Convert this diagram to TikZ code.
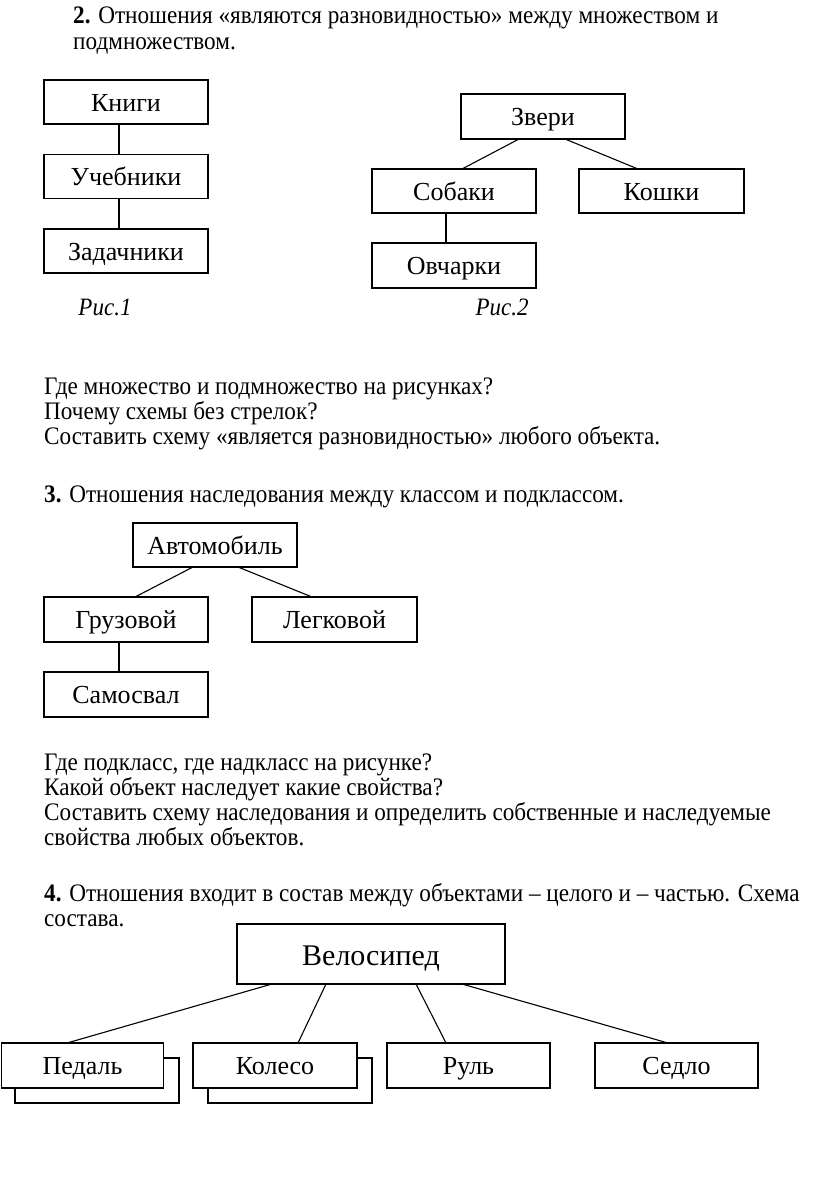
\documentclass[tikz,border=0pt]{standalone}
\usepackage{fontspec}
\setmainfont{Liberation Serif}
\newfontfamily\bodyfont[FakeStretch=0.92]{Liberation Serif}
\begin{document}
\begin{tikzpicture}[x=1pt,y=-1pt,
  box/.style={draw, line width=1.1pt, fill=white, inner sep=0pt, outer sep=0pt,
    minimum width=164pt, minimum height=44pt,
    font=\fontsize{26}{28}\selectfont, text height=18pt, text depth=0pt},
  bigbox/.style={box, minimum width=268pt, minimum height=60pt,
    font=\fontsize{30}{32}\selectfont, text height=22pt, text depth=0pt},
  backbox/.style={draw, line width=1.1pt, fill=white, inner sep=0pt, outer sep=0pt,
    minimum width=164pt, minimum height=45pt},
  txt/.style={anchor=base west, inner sep=0pt, font=\bodyfont\fontsize{25.2}{26}\selectfont},
  capt/.style={anchor=base, inner sep=0pt, font=\bodyfont\fontsize{25}{26}\selectfont\itshape},
  link/.style={line width=1.1pt}]
\useasboundingbox (0,0) rectangle (816,1199);

% --- Section 2 text
\node[txt] (h2a) at (73,24) {\textbf{2.} Отношения «являются разновидностью» между множеством и};
\node[txt] (h2b) at (73,49) {подмножеством.};

% --- Fig 1
\node[box] (knigi) at (126,102) {Книги};
\node[box] (ucheb) at (126,176.5) {Учебники};
\node[box] (zadach) at (126,251) {Задачники};
\draw[link] ([xshift=-7pt]knigi.south) -- ([xshift=-7pt]ucheb.north);
\draw[link] ([xshift=-7pt]ucheb.south) -- ([xshift=-7pt]zadach.north);
\node[capt] (ris1) at (105,315) {Рис.1};

% --- Fig 2
\node[box, minimum height=45pt] (zveri) at (543,116.5) {Звери};
\node[box] (sobaki) at (454,191) {Собаки};
\node[box, minimum width=165pt] (koshki) at (661.5,191) {Кошки};
\node[box, minimum height=45pt] (ovch) at (454,265.5) {Овчарки};
\draw[link] ([xshift=-24pt]zveri.south) -- ([xshift=8pt]sobaki.north);
\draw[link] ([xshift=22pt]zveri.south) -- ([xshift=-23.5pt]koshki.north);
\draw[link] ([xshift=-8pt]sobaki.south) -- ([xshift=-8pt]ovch.north);
\node[capt] (ris2) at (502,315) {Рис.2};

% --- Questions
\node[txt] (q1) at (44,394) {Где множество и подмножество на рисунках?};
\node[txt] (q2) at (44,419) {Почему схемы без стрелок?};
\node[txt] (q3) at (44,444) {Составить схему «является разновидностью» любого объекта.};

% --- Section 3
\node[txt] (h3) at (44,502) {\textbf{3.} Отношения наследования между классом и подклассом.};
\node[box] (avto) at (215,545) {Автомобиль};
\node[box, minimum height=45pt] (gruz) at (126,619.5) {Грузовой};
\node[box, minimum width=165pt, minimum height=45pt] (legk) at (334.5,619.5) {Легковой};
\node[box, minimum height=45pt] (samosv) at (126,694.5) {Самосвал};
\draw[link] ([xshift=-22pt]avto.south) -- ([xshift=9pt]gruz.north);
\draw[link] ([xshift=23pt]avto.south) -- ([xshift=-22.5pt]legk.north);
\draw[link] ([xshift=-7pt]gruz.south) -- ([xshift=-7pt]samosv.north);

\node[txt] (r1) at (44,770) {Где подкласс, где надкласс на рисунке?};
\node[txt] (r2) at (44,795) {Какой объект наследует какие свойства?};
\node[txt] (r3) at (44,820) {Составить схему наследования и определить собственные и наследуемые};
\node[txt] (r4) at (44,845) {свойства любых объектов.};

% --- Section 4
\node[txt] (h4a) at (44,901) {\textbf{4.} Отношения входит в состав между объектами – целого и – частью. Схема};
\node[txt] (h4b) at (44,926) {состава.};

\node[bigbox] (velo) at (371,954) {Велосипед};
\node[backbox] (pedalB) at (97,1080.5) {};
\node[box, minimum width=162pt, minimum height=45pt] (pedal) at (82.5,1065.5) {Педаль};
\node[backbox] (kolesoB) at (290,1080.5) {};
\node[box, minimum height=45pt] (koleso) at (275,1065.5) {Колесо};
\node[box, minimum width=163pt, minimum height=45pt] (rul) at (468.5,1065.5) {Руль};
\node[box, minimum width=163pt, minimum height=45pt] (sedlo) at (676.5,1065.5) {Седло};
\draw[link] ([xshift=-99pt]velo.south) -- ([xshift=-15.5pt]pedal.north);
\draw[link] ([xshift=-45pt]velo.south) -- ([xshift=23pt]koleso.north);
\draw[link] ([xshift=45pt]velo.south) -- ([xshift=-22.5pt]rul.north);
\draw[link] ([xshift=91pt]velo.south) -- ([xshift=-8.5pt]sedlo.north);
\end{tikzpicture}
\end{document}
